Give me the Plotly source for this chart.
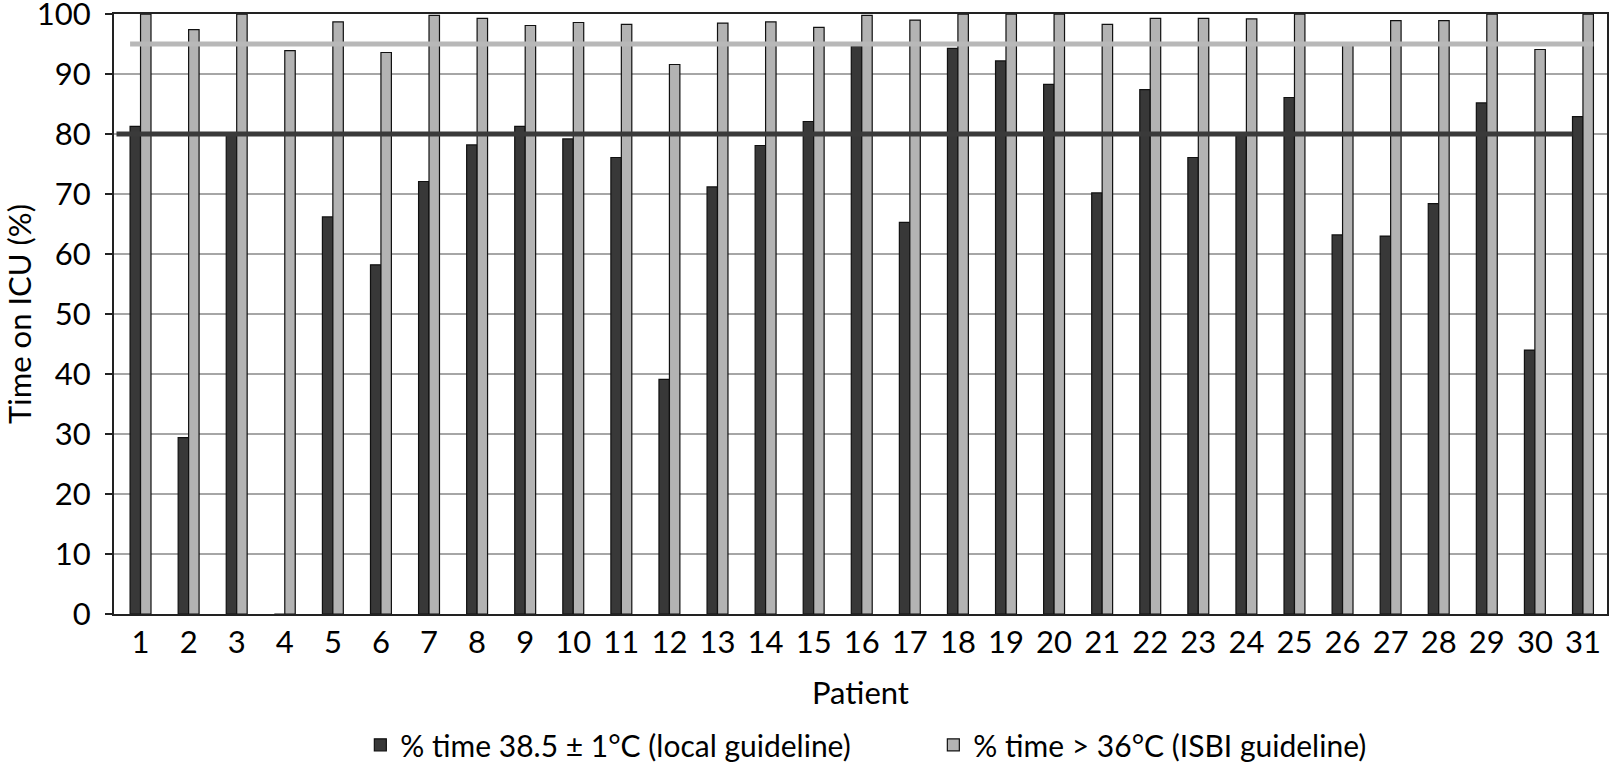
import plotly.graph_objects as go

patients = [str(i) for i in range(1, 32)]
local_guideline = [81.3, 29.4, 80.0, 0.0, 66.2, 58.2, 72.1, 78.2, 81.3, 79.2,
                   76.1, 39.1, 71.2, 78.1, 82.1, 94.7, 65.3, 94.3, 92.2, 88.3,
                   70.2, 87.4, 76.1, 80.0, 86.1, 63.2, 63.0, 68.4, 85.2, 44.0,
                   82.9]
isbi_guideline = [100.0, 97.4, 100.0, 93.9, 98.7, 93.6, 99.8, 99.3, 98.1, 98.6,
                  98.3, 91.6, 98.5, 98.7, 97.8, 99.8, 99.0, 100.0, 100.0, 100.0,
                  98.3, 99.3, 99.3, 99.2, 100.0, 95.0, 98.9, 98.9, 100.0, 94.1,
                  100.0]
local_target = 80
isbi_target = 95
y_ticks = list(range(0, 101, 10))

DARK = "#383838"
LIGHT = "#b3b3b3"
FONT = "Lato, Roboto, Liberation Sans, sans-serif"
FS = 31
BARGAP = 0.565

def font(size=FS):
    return dict(family=FONT, size=size, color="black")

fig = go.Figure()
fig.add_trace(go.Bar(
    x=patients, y=local_guideline,
    name="% time 38.5 \u00b1 1\u00b0C (local guideline)",
    marker=dict(color=DARK, line=dict(color="#111111", width=1.2)),
))
fig.add_trace(go.Bar(
    x=patients, y=isbi_guideline,
    name="% time > 36\u00b0C (ISBI guideline)",
    marker=dict(color=LIGHT, line=dict(color="#111111", width=1.2)),
))

half_pair = (1 - BARGAP) / 2
n = len(patients)
fig.add_shape(type="line", xref="x", yref="y",
              x0=-0.5, x1=(n - 1) - half_pair, y0=local_target, y1=local_target,
              line=dict(color="#3a3a3a", width=5), layer="above")
fig.add_shape(type="line", xref="x", yref="y",
              x0=-half_pair, x1=(n - 1) + half_pair, y0=isbi_target, y1=isbi_target,
              line=dict(color="#b8b8b8", width=5), layer="above")

fig.update_layout(
    width=1609, height=762,
    margin=dict(l=114, r=2, t=14, b=148, autoexpand=False),
    paper_bgcolor="white", plot_bgcolor="white",
    barmode="group", bargap=BARGAP, bargroupgap=0,
    font=font(),
    showlegend=True,
    legend=dict(orientation="h", x=0.165, xanchor="left", y=-0.218, yanchor="middle",
                font=font(30), itemwidth=30, tracegroupgap=0,
                entrywidth=528, entrywidthmode="pixels"),
    xaxis=dict(
        type="category", automargin=False,
        title=dict(text="Patient", standoff=23, font=font()),
        showline=True, linecolor="#222222", linewidth=2, mirror=True,
        ticks="", showgrid=False, tickfont=font(),
    ),
    yaxis=dict(
        automargin=False,
        title=dict(text="Time on ICU (%)", standoff=25, font=font()),
        range=[0, 100.02], tickvals=y_ticks,
        showline=True, linecolor="#222222", linewidth=2, mirror=True,
        ticks="outside", ticklen=7, tickcolor="#222222", tickwidth=1.5,
        ticklabelstandoff=8, ticklabeloverflow="allow",
        showgrid=True, gridcolor="#a6a6a6", gridwidth=1.5,
        zeroline=False, tickfont=font(),
    ),
)

fig.write_html("out.html",
               config={"displayModeBar": False},
               post_script="document.body.style.margin='0';document.body.style.overflow='hidden';")
